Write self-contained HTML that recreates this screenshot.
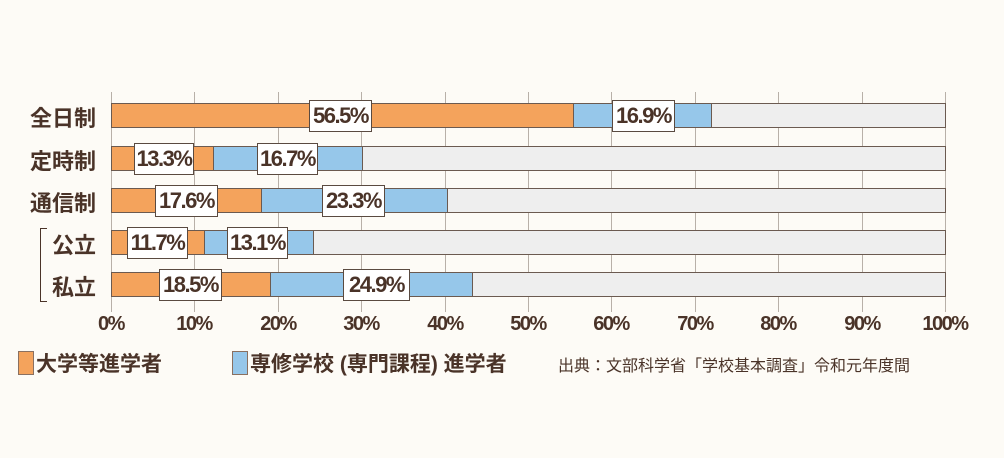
<!DOCTYPE html>
<html><head><meta charset="utf-8"><style>
body{margin:0;background:#fdfbf6;}
#c{position:relative;width:1004px;height:458px;overflow:hidden;background:#fdfbf6;font-family:"Liberation Sans","Noto Sans CJK JP",sans-serif;color:#4a3328;}
.g{position:absolute;top:92px;height:220px;width:1px;background:#b8b0a8;}
.bar{position:absolute;height:25px;border:1px solid #6b5a50;box-sizing:border-box;background:#eeeeee;}
.s{position:absolute;top:-1px;height:25px;border:1px solid #6b5a50;box-sizing:border-box;}
.o{background:#f4a35c;}.b{background:#96c7ea;}
.lb{position:absolute;height:32px;background:#fff;border:1px solid #5a4a40;box-sizing:border-box;font-weight:bold;font-size:22px;line-height:30px;text-align:center;letter-spacing:-1.5px;}
.rl{position:absolute;font-weight:bold;font-size:22px;text-align:right;}
.t{position:absolute;top:313px;font-weight:bold;font-size:20px;width:60px;text-align:center;letter-spacing:-1.5px;}
</style></head><body><div id="c">
<div class="g" style="left:111px"></div><div class="g" style="left:194px"></div><div class="g" style="left:278px"></div><div class="g" style="left:361px"></div><div class="g" style="left:445px"></div><div class="g" style="left:528px"></div><div class="g" style="left:611px"></div><div class="g" style="left:695px"></div><div class="g" style="left:778px"></div><div class="g" style="left:862px"></div><div class="g" style="left:945px"></div>

<div class="rl" style="left:20px;top:101px;width:76px">全日制</div>
<div class="rl" style="left:20px;top:144px;width:76px">定時制</div>
<div class="rl" style="left:20px;top:186px;width:76px">通信制</div>
<div class="rl" style="left:20px;top:228px;width:76px">公立</div>
<div class="rl" style="left:20px;top:270px;width:76px">私立</div>
<div style="position:absolute;left:40px;top:228px;width:6px;height:72px;border:1px solid #4a3328;border-right:none;"></div>

<div class="bar" style="left:111px;top:103px;width:835px"><div class="s o" style="left:-1px;width:463px"></div><div class="s b" style="left:461px;width:139px"></div></div>
<div class="bar" style="left:111px;top:146px;width:835px"><div class="s o" style="left:-1px;width:103px"></div><div class="s b" style="left:101px;width:150px"></div></div>
<div class="bar" style="left:111px;top:188px;width:835px"><div class="s o" style="left:-1px;width:151px"></div><div class="s b" style="left:149px;width:187px"></div></div>
<div class="bar" style="left:111px;top:230px;width:835px"><div class="s o" style="left:-1px;width:94px"></div><div class="s b" style="left:92px;width:110px"></div></div>
<div class="bar" style="left:111px;top:272px;width:835px"><div class="s o" style="left:-1px;width:160px"></div><div class="s b" style="left:158px;width:203px"></div></div>

<div class="lb" style="left:309px;top:100px;width:63px">56.5%</div>
<div class="lb" style="left:612px;top:100px;width:63px">16.9%</div>
<div class="lb" style="left:134px;top:143px;width:60px">13.3%</div>
<div class="lb" style="left:257px;top:143px;width:61px">16.7%</div>
<div class="lb" style="left:155px;top:185px;width:63px">17.6%</div>
<div class="lb" style="left:322px;top:185px;width:63px">23.3%</div>
<div class="lb" style="left:127px;top:227px;width:61px">11.7%</div>
<div class="lb" style="left:227px;top:227px;width:61px">13.1%</div>
<div class="lb" style="left:159px;top:269px;width:63px">18.5%</div>
<div class="lb" style="left:343px;top:269px;width:67px">24.9%</div>

<div class="t" style="left:81px">0%</div><div class="t" style="left:164px">10%</div><div class="t" style="left:248px">20%</div><div class="t" style="left:331px">30%</div><div class="t" style="left:415px">40%</div><div class="t" style="left:498px">50%</div><div class="t" style="left:581px">60%</div><div class="t" style="left:665px">70%</div><div class="t" style="left:748px">80%</div><div class="t" style="left:832px">90%</div><div class="t" style="left:915px">100%</div>

<div style="position:absolute;left:18px;top:351px;width:14px;height:22px;background:#f4a35c;border:1px solid #8a7060"></div>
<div style="position:absolute;left:36px;top:348px;font-size:21px;font-weight:bold">大学等進学者</div>
<div style="position:absolute;left:232px;top:351px;width:14px;height:22px;background:#96c7ea;border:1px solid #8a7060"></div>
<div style="position:absolute;left:250px;top:348px;font-size:21px;font-weight:bold;white-space:nowrap">専修学校 (専門課程) 進学者</div>
<div style="position:absolute;left:558px;top:352px;font-size:16px;white-space:nowrap">出典：文部科学省「学校基本調査」令和元年度間</div>
</div></body></html>
